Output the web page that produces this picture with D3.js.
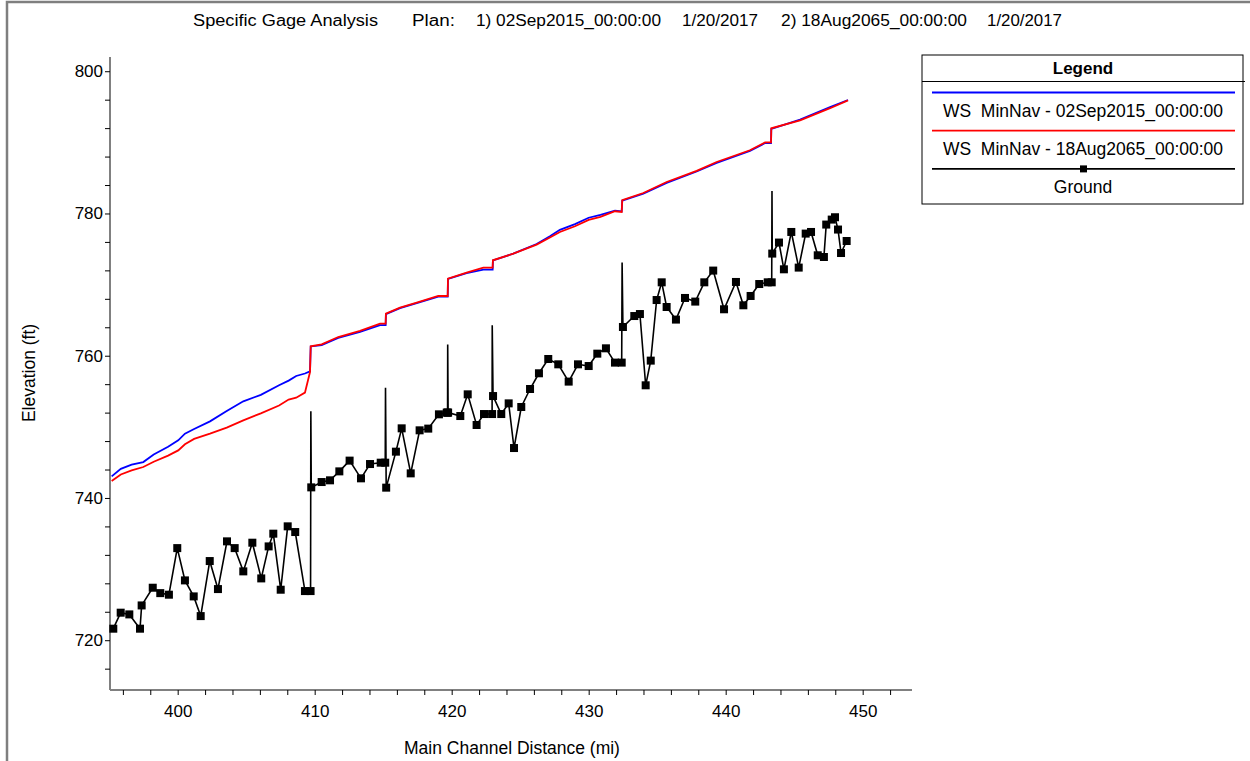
<!DOCTYPE html>
<html>
<head>
<meta charset="utf-8">
<script src="https://cdn.jsdelivr.net/npm/d3@7"></script>
<style>
  body { margin: 0; background: #fff; }
  text { font-family: "Liberation Sans", Arial, sans-serif; fill: #000; }
</style>
</head>
<body>
<svg id="chart" width="1250" height="761"></svg>
<script>
// Water surface profiles (river mile, elevation ft)
const wsMi = [395.18, 395.85, 396.64, 397.49, 398.25, 399.3, 400.04, 400.53, 401.2, 402.36,
  403.58, 404.79, 406.07, 407.4, 408.1, 408.65, 409.29, 409.66, 409.71, 410.51,
  411.72, 413.31, 414.77, 415.18, 415.2, 416.23, 417.45, 419.02, 419.71, 419.73,
  421.09, 422.31, 422.99, 423.01, 424.5, 426.2, 427.17, 427.9, 429.0, 430.0,
  430.86, 431.92, 432.41, 432.45, 433.99, 435.69, 437.88, 439.34, 441.77, 442.88,
  443.31, 443.33, 445.43, 447.62, 448.93];
const ws2015 = [743.04, 744.1, 744.68, 745.05, 746.1, 747.2, 748.1, 749.04, 749.7, 750.77,
  752.22, 753.59, 754.5, 755.85, 756.5, 757.15, 757.5, 757.81, 761.3, 761.5,
  762.5, 763.35, 764.3, 764.3, 765.85, 766.7, 767.4, 768.3, 768.3, 770.8,
  771.6, 772.1, 772.1, 773.4, 774.35, 775.7, 776.8, 777.7, 778.5, 779.4,
  779.8, 780.4, 780.3, 781.8, 782.8, 784.3, 785.9, 787.1, 788.8, 789.9,
  789.9, 791.9, 793.2, 794.95, 795.95];
const ws2065 = [742.38, 743.3, 743.88, 744.35, 745.1, 745.95, 746.69, 747.54, 748.3, 749.04,
  749.89, 750.91, 751.9, 753.0, 753.83, 754.1, 754.81, 757.71, 761.32, 761.6,
  762.63, 763.48, 764.51, 764.51, 765.92, 766.77, 767.47, 768.4, 768.4, 770.84,
  771.69, 772.39, 772.39, 773.42, 774.35, 775.62, 776.61, 777.4, 778.2, 779.1,
  779.51, 780.31, 780.21, 781.86, 782.88, 784.43, 785.98, 787.24, 788.89, 790.0,
  790.0, 791.98, 793.1, 794.8, 795.9];

// Ground (cross sections, drawn with markers)
const groundMi = [395.30, 395.84, 396.47, 397.25, 397.37, 398.18, 398.73, 399.36, 399.97, 400.53,
  401.17, 401.68, 402.34, 402.94, 403.60, 404.16, 404.79, 405.45, 406.10, 406.64,
  406.98, 407.52, 408.03, 408.58, 409.29, 409.70, 409.75, 410.51, 411.12, 411.80,
  412.55, 413.38, 414.04, 414.82, 415.15, 415.22, 415.93, 416.35, 417.01, 417.66,
  418.29, 419.07, 419.64, 419.70, 419.74, 420.63, 421.17, 421.82, 422.36, 422.95,
  423.02, 423.62, 424.16, 424.55, 425.08, 425.72, 426.37, 427.05, 427.78, 428.54,
  429.22, 430.00, 430.63, 431.26, 431.92, 432.41, 432.50, 433.33, 433.74, 434.16,
  434.53, 434.96, 435.33, 435.69, 436.37, 437.03, 437.78, 438.44, 439.09, 439.88,
  440.75, 441.29, 441.82, 442.45, 443.07, 443.36, 443.40, 443.89, 444.25, 444.79,
  445.33, 445.84, 446.23, 446.72, 447.17, 447.34, 447.74, 447.98, 448.20, 448.42,
  448.83];
const groundElev = [721.62, 723.87, 723.63, 721.62, 724.89, 727.38, 726.62, 726.40, 732.95, 728.41,
  726.16, 723.39, 731.13, 727.19, 733.90, 732.95, 729.68, 733.71, 728.69, 733.19,
  734.98, 727.10, 736.01, 735.21, 726.91, 726.91, 741.49, 742.24, 742.48, 743.74,
  745.25, 742.76, 744.77, 744.96, 744.96, 741.45, 746.51, 749.79, 743.46, 749.51,
  749.75, 751.76, 752.0, 752.0, 752.0, 751.52, 754.57, 750.26, 751.8, 751.8,
  754.33, 751.8, 753.3, 747.02, 752.79, 755.32, 757.53, 759.54, 758.79, 756.36,
  758.79, 758.55, 760.29, 761.04, 759.03, 759.03, 764.04, 765.58, 765.86, 755.84,
  759.31, 767.83, 770.32, 766.85, 765.08, 768.12, 767.61, 770.32, 771.97, 766.53,
  770.37, 767.09, 768.40, 770.08, 770.32, 770.32, 774.36, 775.91, 772.15, 777.40,
  772.39, 777.17, 777.40, 774.12, 773.88, 778.44, 779.14, 779.47, 777.74, 774.44,
  776.13];
// Ground spikes (structures), no markers
const spikeMi = [409.72, 415.17, 419.71, 422.96, 432.44, 443.38];
const spikeTop = [752.2, 755.5, 761.56, 764.28, 773.09, 783.16];

const xTicks = [400, 410, 420, 430, 440, 450];
const yTicks = [720, 740, 760, 780, 800];
const legendLabels = ['WS  MinNav - 02Sep2015_00:00:00', 'WS  MinNav - 18Aug2065_00:00:00', 'Ground'];

const svg = d3.select('#chart');

// outer frame
svg.append('rect')
  .attr('x', 7).attr('y', 2).attr('width', 1260).attr('height', 800)
  .attr('fill', 'none').attr('stroke', '#7f7f7f').attr('stroke-width', 2.5);

// title pieces
const titleParts = [
  ['Specific Gage Analysis', 193, 185],
  ['Plan:', 412, 43],
  ['1) 02Sep2015_00:00:00', 476, 185],
  ['1/20/2017', 682, 76],
  ['2) 18Aug2065_00:00:00', 781, 186],
  ['1/20/2017', 987, 75]
];
svg.selectAll('.title').data(titleParts).join('text')
  .attr('class', 'title')
  .attr('x', d => d[1])
  .attr('y', 26)
  .attr('font-size', 16)
  .attr('textLength', d => d[2])
  .attr('lengthAdjust', 'spacingAndGlyphs')
  .text(d => d[0]);

// scales
const x = d3.scaleLinear().domain([395.06, 453.6]).range([110, 912]);
const y = d3.scaleLinear().domain([713, 802]).range([690, 57]);

// axes
const xAxis = svg.append('g')
  .attr('transform', 'translate(0,690)')
  .call(d3.axisBottom(x).tickValues(d3.range(396, 453, 2)).tickSize(5)
    .tickFormat(d => xTicks.includes(d) ? d : ''));
const yAxis = svg.append('g')
  .attr('transform', 'translate(110,0)')
  .call(d3.axisLeft(y).tickValues(d3.range(716, 801, 4)).tickSize(5)
    .tickFormat(d => yTicks.includes(d) ? d : ''));

[xAxis, yAxis].forEach(g => {
  g.select('.domain').attr('stroke', '#808080').attr('stroke-width', 2);
  g.selectAll('.tick line').attr('stroke', '#000');
  g.selectAll('.tick text').attr('font-size', 17).attr('font-family', '"Liberation Sans", Arial, sans-serif');
});
xAxis.selectAll('.tick text').attr('dy', '1.1em');
yAxis.selectAll('.tick text').attr('x', -7);
xAxis.select('.domain').attr('d', 'M110,0H912');
yAxis.select('.domain').attr('d', 'M0,57V690');

// axis titles
svg.append('text')
  .attr('x', 512).attr('y', 754).attr('text-anchor', 'middle')
  .attr('font-size', 17.5).text('Main Channel Distance (mi)');
svg.append('text')
  .attr('transform', 'translate(35,373) rotate(-90)').attr('text-anchor', 'middle')
  .attr('font-size', 17.5).text('Elevation (ft)');

// lines
const line = d3.line().x(d => x(d[0])).y(d => y(d[1]));

const wsBlue = wsMi.map((m, i) => [m, ws2015[i]]);
const wsRed = wsMi.map((m, i) => [m, ws2065[i]]);
const groundPts = groundMi.map((m, i) => [m, groundElev[i]]);
const groundPath = groundPts.concat(spikeMi.map((m, i) => [m, spikeTop[i]]))
  .sort((a, b) => a[0] - b[0]);

svg.append('path').datum(groundPath)
  .attr('d', line).attr('fill', 'none').attr('stroke', '#000').attr('stroke-width', 1.6);
svg.selectAll('.gm').data(groundPts).join('rect')
  .attr('class', 'gm')
  .attr('x', d => x(d[0]) - 4).attr('y', d => y(d[1]) - 4)
  .attr('width', 8).attr('height', 8).attr('fill', '#000');

svg.append('path').datum(wsBlue)
  .attr('d', line).attr('fill', 'none').attr('stroke', '#0000ff').attr('stroke-width', 1.8);
svg.append('path').datum(wsRed)
  .attr('d', line).attr('fill', 'none').attr('stroke', '#ff0000').attr('stroke-width', 1.8);

// legend
const lg = svg.append('g');
lg.append('rect').attr('x', 922).attr('y', 55).attr('width', 321).attr('height', 149)
  .attr('fill', '#fff').attr('stroke', '#000').attr('stroke-width', 1);
lg.append('line').attr('x1', 922).attr('x2', 1245).attr('y1', 81.5).attr('y2', 81.5)
  .attr('stroke', '#000');
lg.append('text').attr('x', 1083).attr('y', 74).attr('text-anchor', 'middle')
  .attr('font-size', 17).attr('font-weight', 'bold').text('Legend');
const legendColors = ['#0000ff', '#ff0000', '#000'];
legendLabels.forEach((lab, i) => {
  const ly = 92.5 + i * 38.2;
  lg.append('line').attr('x1', 932).attr('x2', 1235).attr('y1', ly).attr('y2', ly)
    .attr('stroke', legendColors[i]).attr('stroke-width', 1.8);
  if (i === 2) {
    lg.append('rect').attr('x', 1080).attr('y', ly - 3.5).attr('width', 7).attr('height', 7).attr('fill', '#000');
  }
  lg.append('text').attr('x', 1083).attr('y', ly + 24).attr('text-anchor', 'middle')
    .attr('font-size', 17.5).style('white-space', 'pre').text(lab);
});
</script>
</body>
</html>
